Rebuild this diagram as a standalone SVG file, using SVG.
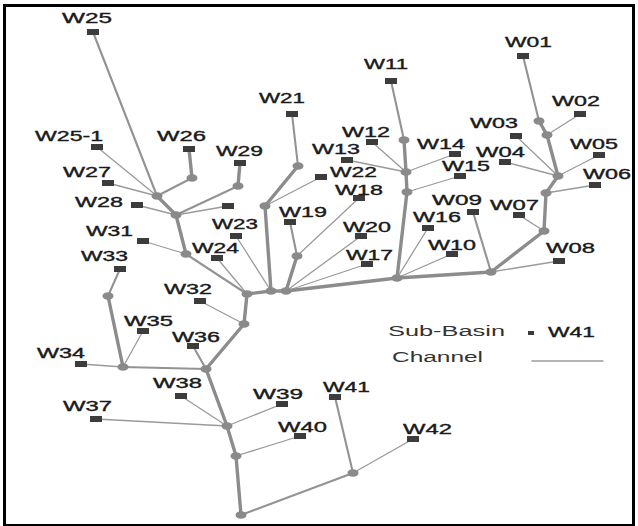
<svg xmlns="http://www.w3.org/2000/svg" width="638" height="526" viewBox="0 0 638 526">
<style>
text{font-family:"Liberation Sans",Arial,sans-serif;font-size:14px;fill:#1a1a1a;stroke:#1a1a1a;stroke-width:0.35}
.lg{fill:#333;stroke:none}
.sq{fill:#3c3c3c}
.jn{fill:#8a8a8a}
line{stroke-linecap:round}
.t1{stroke:#9a9a9a;stroke-width:1.3}
.t2{stroke:#939393;stroke-width:2.1}
.t3{stroke:#8c8c8c;stroke-width:3.4}
</style>
<rect x="4.5" y="5.5" width="629" height="520" fill="#fff" stroke="#000" stroke-width="3"/>
<g id="connectors">
<line class="t2" x1="93" y1="32" x2="157" y2="196"/>
<line class="t1" x1="97" y1="147" x2="157" y2="196"/>
<line class="t1" x1="108" y1="183" x2="157" y2="196"/>
<line class="t3" x1="189" y1="149" x2="192" y2="178"/>
<line class="t2" x1="192" y1="178" x2="157" y2="196"/>
<line class="t3" x1="240" y1="163" x2="238" y2="186"/>
<line class="t2" x1="238" y1="186" x2="176" y2="215"/>
<line class="t3" x1="157" y1="196" x2="176" y2="215"/>
<line class="t1" x1="137" y1="205" x2="176" y2="215"/>
<line class="t1" x1="228" y1="206" x2="176" y2="215"/>
<line class="t3" x1="176" y1="215" x2="186" y2="254"/>
<line class="t1" x1="143" y1="241" x2="186" y2="254"/>
<line class="t2" x1="186" y1="254" x2="247" y2="294"/>
<line class="t1" x1="217" y1="258" x2="247" y2="294"/>
<line class="t1" x1="236" y1="236" x2="271" y2="291"/>
<line class="t2" x1="292" y1="114" x2="298" y2="166"/>
<line class="t3" x1="298" y1="166" x2="265" y2="206"/>
<line class="t1" x1="321" y1="177" x2="265" y2="206"/>
<line class="t3" x1="265" y1="206" x2="271" y2="291"/>
<line class="t2" x1="290" y1="222" x2="297" y2="256"/>
<line class="t3" x1="297" y1="256" x2="286" y2="291"/>
<line class="t1" x1="359" y1="198" x2="297" y2="256"/>
<line class="t1" x1="361" y1="236" x2="286" y2="291"/>
<line class="t1" x1="367" y1="264" x2="286" y2="291"/>
<line class="t3" x1="247" y1="294" x2="271" y2="291"/>
<line class="t3" x1="271" y1="291" x2="286" y2="291"/>
<line class="t3" x1="286" y1="291" x2="397" y2="278"/>
<line class="t3" x1="247" y1="294" x2="244" y2="324"/>
<line class="t1" x1="200" y1="301" x2="244" y2="324"/>
<line class="t3" x1="244" y1="324" x2="206" y2="369"/>
<line class="t2" x1="193" y1="346" x2="206" y2="369"/>
<line class="t2" x1="120" y1="269" x2="108" y2="296"/>
<line class="t3" x1="108" y1="296" x2="123" y2="367"/>
<line class="t1" x1="143" y1="331" x2="123" y2="367"/>
<line class="t1" x1="81" y1="364" x2="123" y2="367"/>
<line class="t2" x1="123" y1="367" x2="206" y2="369"/>
<line class="t3" x1="206" y1="369" x2="227" y2="426"/>
<line class="t1" x1="181" y1="396" x2="227" y2="426"/>
<line class="t1" x1="96" y1="419" x2="227" y2="426"/>
<line class="t1" x1="282" y1="404" x2="227" y2="426"/>
<line class="t3" x1="227" y1="426" x2="236" y2="456"/>
<line class="t1" x1="300" y1="436" x2="236" y2="456"/>
<line class="t3" x1="236" y1="456" x2="241" y2="515"/>
<line class="t2" x1="241" y1="515" x2="353" y2="473"/>
<line class="t2" x1="335" y1="397" x2="353" y2="473"/>
<line class="t1" x1="413" y1="439" x2="353" y2="473"/>
<line class="t2" x1="391" y1="81" x2="404" y2="140"/>
<line class="t3" x1="404" y1="140" x2="406" y2="172"/>
<line class="t1" x1="372" y1="142" x2="406" y2="172"/>
<line class="t1" x1="347" y1="160" x2="406" y2="172"/>
<line class="t1" x1="455" y1="154" x2="406" y2="172"/>
<line class="t3" x1="406" y1="172" x2="407" y2="192"/>
<line class="t1" x1="460" y1="176" x2="407" y2="192"/>
<line class="t3" x1="407" y1="192" x2="397" y2="278"/>
<line class="t1" x1="428" y1="228" x2="397" y2="278"/>
<line class="t1" x1="452" y1="254" x2="397" y2="278"/>
<line class="t3" x1="397" y1="278" x2="491" y2="272"/>
<line class="t2" x1="473" y1="212" x2="491" y2="272"/>
<line class="t3" x1="544" y1="231" x2="491" y2="272"/>
<line class="t1" x1="559" y1="261" x2="491" y2="272"/>
<line class="t1" x1="519" y1="215" x2="544" y2="231"/>
<line class="t3" x1="546" y1="193" x2="544" y2="231"/>
<line class="t1" x1="595" y1="185" x2="546" y2="193"/>
<line class="t3" x1="558" y1="176" x2="546" y2="193"/>
<line class="t1" x1="599" y1="155" x2="558" y2="176"/>
<line class="t1" x1="505" y1="162" x2="558" y2="176"/>
<line class="t1" x1="516" y1="136" x2="558" y2="176"/>
<line class="t3" x1="547" y1="135" x2="558" y2="176"/>
<line class="t1" x1="580" y1="114" x2="547" y2="135"/>
<line class="t3" x1="539" y1="121" x2="547" y2="135"/>
<line class="t2" x1="523" y1="56" x2="539" y2="121"/>
</g>
<g id="junctions">
<ellipse class="jn" cx="157" cy="196" rx="5.5" ry="3.8"/>
<ellipse class="jn" cx="176" cy="215" rx="5.5" ry="3.8"/>
<ellipse class="jn" cx="186" cy="254" rx="5.5" ry="3.8"/>
<ellipse class="jn" cx="247" cy="294" rx="5.5" ry="3.8"/>
<ellipse class="jn" cx="271" cy="291" rx="5.5" ry="3.8"/>
<ellipse class="jn" cx="286" cy="291" rx="5.5" ry="3.8"/>
<ellipse class="jn" cx="192" cy="178" rx="5.5" ry="3.8"/>
<ellipse class="jn" cx="238" cy="186" rx="5.5" ry="3.8"/>
<ellipse class="jn" cx="298" cy="166" rx="5.5" ry="3.8"/>
<ellipse class="jn" cx="265" cy="206" rx="5.5" ry="3.8"/>
<ellipse class="jn" cx="297" cy="256" rx="5.5" ry="3.8"/>
<ellipse class="jn" cx="244" cy="324" rx="5.5" ry="3.8"/>
<ellipse class="jn" cx="108" cy="296" rx="5.5" ry="3.8"/>
<ellipse class="jn" cx="123" cy="367" rx="5.5" ry="3.8"/>
<ellipse class="jn" cx="206" cy="369" rx="5.5" ry="3.8"/>
<ellipse class="jn" cx="227" cy="426" rx="5.5" ry="3.8"/>
<ellipse class="jn" cx="236" cy="456" rx="5.5" ry="3.8"/>
<ellipse class="jn" cx="241" cy="515" rx="5.5" ry="3.8"/>
<ellipse class="jn" cx="353" cy="473" rx="5.5" ry="3.8"/>
<ellipse class="jn" cx="404" cy="140" rx="5.5" ry="3.8"/>
<ellipse class="jn" cx="406" cy="172" rx="5.5" ry="3.8"/>
<ellipse class="jn" cx="407" cy="192" rx="5.5" ry="3.8"/>
<ellipse class="jn" cx="397" cy="278" rx="5.5" ry="3.8"/>
<ellipse class="jn" cx="491" cy="272" rx="5.5" ry="3.8"/>
<ellipse class="jn" cx="544" cy="231" rx="5.5" ry="3.8"/>
<ellipse class="jn" cx="546" cy="193" rx="5.5" ry="3.8"/>
<ellipse class="jn" cx="558" cy="176" rx="5.5" ry="3.8"/>
<ellipse class="jn" cx="547" cy="135" rx="5.5" ry="3.8"/>
<ellipse class="jn" cx="539" cy="121" rx="5.5" ry="3.8"/>
</g>
<g id="W25"><rect class="sq" x="87" y="29" width="12" height="6"/><text x="62" y="23" textLength="50" lengthAdjust="spacingAndGlyphs">W25</text></g>
<g id="W25-1"><rect class="sq" x="91" y="144" width="12" height="6"/><text x="35" y="141" textLength="68" lengthAdjust="spacingAndGlyphs">W25-1</text></g>
<g id="W26"><rect class="sq" x="183" y="146" width="12" height="6"/><text x="157" y="141" textLength="49" lengthAdjust="spacingAndGlyphs">W26</text></g>
<g id="W29"><rect class="sq" x="234" y="160" width="12" height="6"/><text x="216" y="156" textLength="47" lengthAdjust="spacingAndGlyphs">W29</text></g>
<g id="W21"><rect class="sq" x="286" y="111" width="12" height="6"/><text x="259" y="103" textLength="46" lengthAdjust="spacingAndGlyphs">W21</text></g>
<g id="W27"><rect class="sq" x="102" y="180" width="12" height="6"/><text x="63" y="177" textLength="48" lengthAdjust="spacingAndGlyphs">W27</text></g>
<g id="W28"><rect class="sq" x="131" y="202" width="12" height="6"/><text x="75" y="207" textLength="48" lengthAdjust="spacingAndGlyphs">W28</text></g>
<g id="W30"><rect class="sq" x="222" y="203" width="12" height="6"/></g>
<g id="W31"><rect class="sq" x="137" y="238" width="12" height="6"/><text x="86" y="236" textLength="47" lengthAdjust="spacingAndGlyphs">W31</text></g>
<g id="W33"><rect class="sq" x="114" y="266" width="12" height="6"/><text x="81" y="261" textLength="47" lengthAdjust="spacingAndGlyphs">W33</text></g>
<g id="W23"><rect class="sq" x="230" y="233" width="12" height="6"/><text x="212" y="229" textLength="46" lengthAdjust="spacingAndGlyphs">W23</text></g>
<g id="W24"><rect class="sq" x="211" y="255" width="12" height="6"/><text x="192" y="253" textLength="47" lengthAdjust="spacingAndGlyphs">W24</text></g>
<g id="W32"><rect class="sq" x="194" y="298" width="12" height="6"/><text x="164" y="294" textLength="48" lengthAdjust="spacingAndGlyphs">W32</text></g>
<g id="W35"><rect class="sq" x="137" y="328" width="12" height="6"/><text x="124" y="326" textLength="49" lengthAdjust="spacingAndGlyphs">W35</text></g>
<g id="W36"><rect class="sq" x="187" y="343" width="12" height="6"/><text x="172" y="342" textLength="48" lengthAdjust="spacingAndGlyphs">W36</text></g>
<g id="W19"><rect class="sq" x="284" y="219" width="12" height="6"/><text x="279" y="217" textLength="48" lengthAdjust="spacingAndGlyphs">W19</text></g>
<g id="W34"><rect class="sq" x="75" y="361" width="12" height="6"/><text x="37" y="358" textLength="48" lengthAdjust="spacingAndGlyphs">W34</text></g>
<g id="W38"><rect class="sq" x="175" y="393" width="12" height="6"/><text x="153" y="388" textLength="49" lengthAdjust="spacingAndGlyphs">W38</text></g>
<g id="W37"><rect class="sq" x="90" y="416" width="12" height="6"/><text x="63" y="411" textLength="49" lengthAdjust="spacingAndGlyphs">W37</text></g>
<g id="W39"><rect class="sq" x="276" y="401" width="12" height="6"/><text x="253" y="399" textLength="50" lengthAdjust="spacingAndGlyphs">W39</text></g>
<g id="W40"><rect class="sq" x="294" y="433" width="12" height="6"/><text x="278" y="432" textLength="49" lengthAdjust="spacingAndGlyphs">W40</text></g>
<g id="W41"><rect class="sq" x="329" y="394" width="12" height="6"/><text x="323" y="392" textLength="47" lengthAdjust="spacingAndGlyphs">W41</text></g>
<g id="W42"><rect class="sq" x="407" y="436" width="12" height="6"/><text x="403" y="434" textLength="49" lengthAdjust="spacingAndGlyphs">W42</text></g>
<g id="W01"><rect class="sq" x="517" y="53" width="12" height="6"/><text x="505" y="47" textLength="47" lengthAdjust="spacingAndGlyphs">W01</text></g>
<g id="W11"><rect class="sq" x="385" y="78" width="12" height="6"/><text x="364" y="69" textLength="44" lengthAdjust="spacingAndGlyphs">W11</text></g>
<g id="W02"><rect class="sq" x="574" y="111" width="12" height="6"/><text x="552" y="106" textLength="48" lengthAdjust="spacingAndGlyphs">W02</text></g>
<g id="W03"><rect class="sq" x="510" y="133" width="12" height="6"/><text x="470" y="128" textLength="48" lengthAdjust="spacingAndGlyphs">W03</text></g>
<g id="W12"><rect class="sq" x="366" y="139" width="12" height="6"/><text x="342" y="137" textLength="48" lengthAdjust="spacingAndGlyphs">W12</text></g>
<g id="W14"><rect class="sq" x="449" y="151" width="12" height="6"/><text x="417" y="149" textLength="48" lengthAdjust="spacingAndGlyphs">W14</text></g>
<g id="W05"><rect class="sq" x="593" y="152" width="12" height="6"/><text x="570" y="149" textLength="48" lengthAdjust="spacingAndGlyphs">W05</text></g>
<g id="W13"><rect class="sq" x="341" y="157" width="12" height="6"/><text x="312" y="154" textLength="48" lengthAdjust="spacingAndGlyphs">W13</text></g>
<g id="W04"><rect class="sq" x="499" y="159" width="12" height="6"/><text x="476" y="157" textLength="49" lengthAdjust="spacingAndGlyphs">W04</text></g>
<g id="W15"><rect class="sq" x="454" y="173" width="12" height="6"/><text x="442" y="171" textLength="48" lengthAdjust="spacingAndGlyphs">W15</text></g>
<g id="W22"><rect class="sq" x="315" y="174" width="12" height="6"/><text x="330" y="177" textLength="47" lengthAdjust="spacingAndGlyphs">W22</text></g>
<g id="W06"><rect class="sq" x="589" y="182" width="12" height="6"/><text x="583" y="179" textLength="48" lengthAdjust="spacingAndGlyphs">W06</text></g>
<g id="W18"><rect class="sq" x="353" y="195" width="12" height="6"/><text x="335" y="195" textLength="48" lengthAdjust="spacingAndGlyphs">W18</text></g>
<g id="W09"><rect class="sq" x="467" y="209" width="12" height="6"/><text x="432" y="205" textLength="50" lengthAdjust="spacingAndGlyphs">W09</text></g>
<g id="W07"><rect class="sq" x="513" y="212" width="12" height="6"/><text x="490" y="210" textLength="49" lengthAdjust="spacingAndGlyphs">W07</text></g>
<g id="W16"><rect class="sq" x="422" y="225" width="12" height="6"/><text x="413" y="222" textLength="48" lengthAdjust="spacingAndGlyphs">W16</text></g>
<g id="W20"><rect class="sq" x="355" y="233" width="12" height="6"/><text x="343" y="232" textLength="48" lengthAdjust="spacingAndGlyphs">W20</text></g>
<g id="W10"><rect class="sq" x="446" y="251" width="12" height="6"/><text x="428" y="250" textLength="48" lengthAdjust="spacingAndGlyphs">W10</text></g>
<g id="W17"><rect class="sq" x="361" y="261" width="12" height="6"/><text x="346" y="260" textLength="47" lengthAdjust="spacingAndGlyphs">W17</text></g>
<g id="W08"><rect class="sq" x="553" y="258" width="12" height="6"/><text x="546" y="253" textLength="49" lengthAdjust="spacingAndGlyphs">W08</text></g>
<g id="legend">
<text class="lg" x="388" y="336" textLength="117" lengthAdjust="spacingAndGlyphs">Sub-Basin</text>
<rect class="sq" x="528" y="331" width="6" height="4"/>
<text x="548" y="337" textLength="47" lengthAdjust="spacingAndGlyphs">W41</text>
<text class="lg" x="392" y="362" textLength="91" lengthAdjust="spacingAndGlyphs">Channel</text>
<line class="t1" x1="532" y1="361" x2="603" y2="361"/>
</g>
</svg>
